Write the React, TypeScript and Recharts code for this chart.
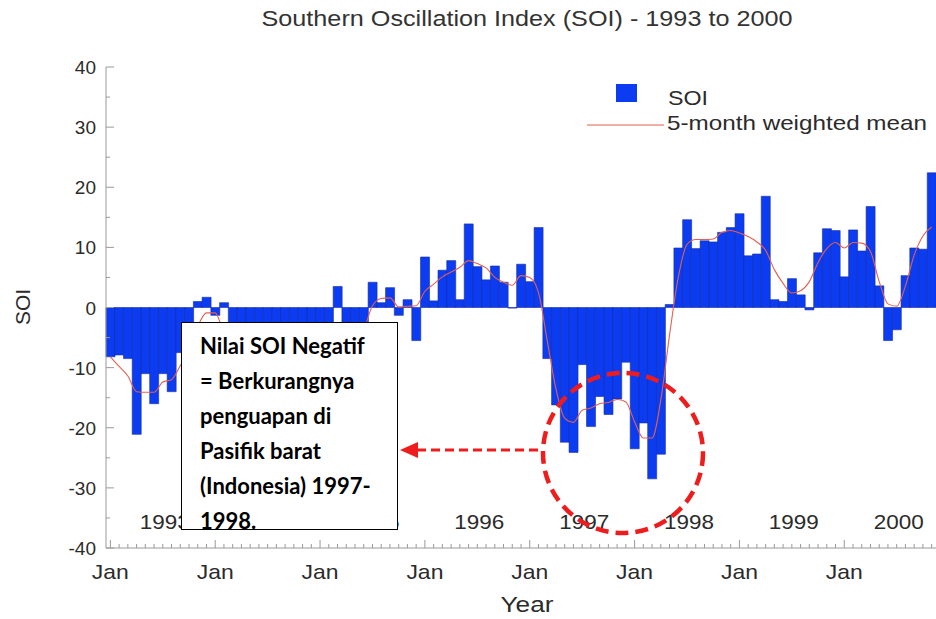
import {
  Bar,
  ComposedChart,
  Label,
  Line,
  ReferenceLine,
  XAxis,
  YAxis,
} from 'recharts'

const YEARS = ['1993', '1994', '1995', '1996', '1997', '1998', '1999', '2000']
const MONTH_CODES = ['01', '02', '03', '04', '05', '06', '07', '08', '09', '10', '11', '12']

// monthly SOI, Jan 1993 .. Nov 2000
const SOI = [
  -8.2, -7.9, -8.5, -21.1, -11.0, -16.0, -11.0, -14.0, -7.5, -13.3, 1.0, 1.7,
  -1.3, 0.8, -10.6, -22.8, -13.0, -10.4, -18.0, -17.2, -17.2, -14.1, -7.0, -11.9,
  -4.0, -2.8, 3.5, -16.2, -9.0, -3.0, 4.2, 0.8, 3.3, -1.3, 1.3, -5.5,
  8.4, 1.1, 6.2, 7.8, 1.3, 13.9, 6.8, 4.6, 6.9, 4.2, -0.1, 7.2,
  4.3, 13.3, -8.5, -16.2, -22.4, -24.1, -9.5, -19.8, -14.8, -17.8, -15.2, -9.1,
  -23.5, -19.2, -28.5, -24.4, 0.5, 9.9, 14.6, 9.8, 11.1, 10.9, 12.5, 13.3,
  15.6, 8.6, 8.9, 18.5, 1.3, 1.0, 4.8, 2.1, -0.4, 9.1, 13.1, 12.8,
  5.1, 12.9, 9.4, 16.8, 3.6, -5.5, -3.7, 5.3, 9.9, 9.7, 22.4,
]

// 5-month weighted mean (red curve)
const MEAN = [
  -8.2, -9.8, -11.4, -14.0, -14.1, -14.1, -12.4, -12.0, -9.7, -7.2, -3.2, -0.9,
  -0.9, -4.7, -10.0, -13.9, -14.9, -14.8, -15.5, -16.3, -15.5, -13.3, -10.5, -8.3,
  -5.0, -4.2, -4.5, -7.3, -6.4, -3.8, 0.3, 1.5, 1.6, 0.1, 0.2, 0.3,
  2.7, 3.9, 5.1, 5.9, 6.7, 7.8, 7.3, 6.6, 5.0, 4.2, 3.7, 5.3,
  5.0, 2.5, -5.5, -13.5, -18.4, -19.1, -17.1, -16.7, -16.0, -15.8, -15.3, -15.7,
  -19.0, -21.7, -21.7, -15.4, -4.6, 5.0, 10.5, 11.3, 11.3, 11.4, 12.5, 12.8,
  12.4, 11.8, 10.9, 9.5, 6.3, 4.0, 2.4, 2.8, 4.3, 7.5, 9.8, 10.8,
  9.9, 10.8, 10.7, 9.3, 4.3, 0.6, 0.2, 3.6, 8.7, 11.9, 13.4,
]

const Y_TICKS = [-40, -35, -30, -25, -20, -15, -10, -5, 0, 5, 10, 15, 20, 25, 30, 35, 40]

const MONTHS = YEARS.flatMap((y) => MONTH_CODES.map((m) => `${y}-${m}`)).slice(0, SOI.length)
const data = MONTHS.map((month, i) => ({ month, soi: SOI[i], mean: MEAN[i] }))

const FONT = '"Liberation Sans", Arial, Helvetica, sans-serif'
const AXIS = '#9a9a9a'
const INK = '#2b2b2b'
const BLUE = '#0c3cf2'
const RED = '#e5604f'
const MARK = '#ee1c1c'

function BottomTick({ x, y, payload }: any) {
  const jan = String(payload.value).endsWith('-01')
  return (
    <g>
      <line x1={x} x2={x} y1={y} y2={y - (jan ? 8 : 4)} stroke={AXIS} />
      {jan && (
        <text x={x} y={y + 31} textAnchor="middle" fontSize={21} fill={INK} fontFamily={FONT}
          textLength={37} lengthAdjust="spacingAndGlyphs">
          Jan
        </text>
      )}
    </g>
  )
}

function TopTick({ x, y, payload }: any) {
  const jan = String(payload.value).endsWith('-01')
  return <line x1={x} x2={x} y1={y} y2={y + (jan ? 8 : 4)} stroke={AXIS} />
}

function LeftTick({ x, y, payload }: any) {
  const major = payload.value % 10 === 0
  return (
    <g>
      <line x1={x} x2={x + (major ? 8 : 4)} y1={y} y2={y} stroke={AXIS} />
      {major && (
        <text x={x - 10} y={y + 7} textAnchor="end" fontSize={19} fill={INK} fontFamily={FONT}>
          {payload.value}
        </text>
      )}
    </g>
  )
}

const yearLabel = (year: string) => (props: any) => {
  const { x, y, height } = props.viewBox
  return (
    <text x={x + 2} y={y + height - 19} textAnchor="middle" fontSize={21} fill={INK} fontFamily={FONT}
      textLength={50} lengthAdjust="spacingAndGlyphs">
      {year}
    </text>
  )
}

export default function App() {
  return (
    <div style={{ position: 'absolute', left: 0, top: 0, width: 936, height: 619, overflow: 'hidden', background: '#fff' }}>
      <ComposedChart
        width={936}
        height={619}
        data={data}
        margin={{ top: 67, right: 0, bottom: 0, left: 0 }}
        barCategoryGap={0}
        barGap={0}
      >
        <XAxis
          dataKey="month"
          interval={0}
          height={71}
          tickSize={0}
          tickMargin={0}
          tickLine={false}
          tick={(p: any) => <BottomTick {...p} />}
          axisLine={{ stroke: AXIS }}
        >
          <Label
            content={() => (
              <text x={527} y={612} textAnchor="middle" fontSize={22} fill={INK} fontFamily={FONT}
                textLength={53} lengthAdjust="spacingAndGlyphs">
                Year
              </text>
            )}
          />
        </XAxis>
        <XAxis
          xAxisId="top"
          orientation="top"
          dataKey="month"
          interval={0}
          height={0}
          tickSize={0}
          tickMargin={0}
          tickLine={false}
          tick={(p: any) => <TopTick {...p} />}
          axisLine={{ stroke: AXIS }}
        />
        <YAxis
          type="number"
          domain={[-40, 40]}
          ticks={Y_TICKS}
          interval={0}
          allowDataOverflow
          width={106}
          tickSize={0}
          tickMargin={0}
          tickLine={false}
          tick={(p: any) => <LeftTick {...p} />}
          axisLine={{ stroke: AXIS }}
        >
          <Label
            content={() => (
              <text x={30} y={307} transform="rotate(-90 30 307)" textAnchor="middle" fontSize={21}
                fill={INK} fontFamily={FONT}>
                SOI
              </text>
            )}
          />
        </YAxis>
        {YEARS.map((y) => (
          <ReferenceLine key={y} x={`${y}-07`} stroke="none" label={yearLabel(y)} />
        ))}
        <Bar dataKey="soi" fill={BLUE} stroke="#1a2d9e" strokeWidth={0.6} isAnimationActive={false} />
        <Line
          dataKey="mean"
          type="monotone"
          stroke={RED}
          strokeWidth={1.1}
          dot={false}
          isAnimationActive={false}
        />
      </ComposedChart>

      <div
        style={{
          position: 'absolute',
          left: 181,
          top: 322,
          width: 217,
          height: 208,
          boxSizing: 'border-box',
          border: '1.5px solid #000',
          background: '#fff',
          overflow: 'hidden',
          padding: '5px 0 0 18px',
          fontFamily: 'Lato, "Open Sans", sans-serif',
          fontWeight: 700,
          fontSize: 22,
          lineHeight: '35px',
          color: '#000',
          whiteSpace: 'nowrap',
        }}
      >
        Nilai SOI Negatif
        <br />= Berkurangnya
        <br />penguapan di
        <br />Pasifik barat
        <br />(Indonesia) 1997-
        <br />1998.
      </div>

      <svg width={936} height={619} style={{ position: 'absolute', left: 0, top: 0, pointerEvents: 'none' }}>
        <text x={527} y={26} textAnchor="middle" fontSize={22} fill="#333" fontFamily={FONT}
          textLength={531} lengthAdjust="spacingAndGlyphs">
          Southern Oscillation Index (SOI) - 1993 to 2000
        </text>
        <rect x={616} y={84} width={21} height={18} fill={BLUE} />
        <text x={668} y={105} fontSize={21} fill={INK} fontFamily={FONT} textLength={40}
          lengthAdjust="spacingAndGlyphs">
          SOI
        </text>
        <line x1={587} x2={664} y1={125} y2={125} stroke={RED} strokeWidth={1.2} />
        <text x={667} y={130} fontSize={21} fill={INK} fontFamily={FONT} textLength={260}
          lengthAdjust="spacingAndGlyphs">
          5-month weighted mean
        </text>
        <circle cx={623} cy={453} r={80} fill="none" stroke={MARK} strokeWidth={4.5} strokeDasharray="13 7" />
        <line x1={538} x2={416} y1={450} y2={450} stroke={MARK} strokeWidth={3} strokeDasharray="9 5" />
        <polygon points="400,450 418,442 418,458" fill={MARK} />
      </svg>
    </div>
  )
}
